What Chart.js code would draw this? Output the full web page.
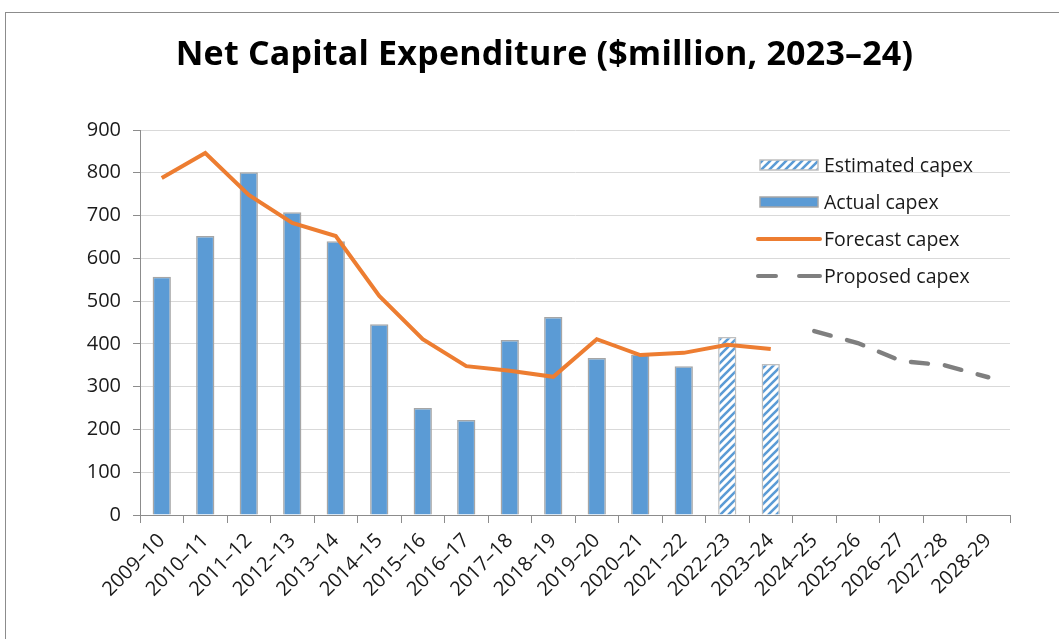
<!DOCTYPE html>
<html>
<head>
    <title>Net Capital Expenditure</title>
    <script src="https://cdn.jsdelivr.net/npm/chart.js"></script>
    <style>
        html, body { margin: 0; padding: 0; background: #fff; overflow: hidden; }
        .frame {
            position: absolute;
            left: 5px;
            top: 12px;
            width: 1100px;
            height: 700px;
            border-top: 1px solid #8c8c8c;
            border-left: 1px solid #8c8c8c;
        }
        .titulo {
            position: absolute;
            left: 0;
            top: 17px;
            width: 1077px;
            text-align: center;
            font-family: "Open Sans", "Noto Sans", sans-serif;
            font-weight: bold;
            font-size: 34px;
            line-height: 44px;
            color: #000;
            letter-spacing: 0.2px;
        }
        canvas { display: block; }
    </style>
</head>
<body>

<div class="frame">
    <canvas id="grafico" width="1076" height="626"></canvas>
    <div class="titulo">Net Capital Expenditure ($million, 2023–24)</div>
</div>

<script>
    const years = ['2009–10', '2010–11', '2011–12', '2012–13', '2013–14', '2014–15', '2015–16',
        '2016–17', '2017–18', '2018–19', '2019–20', '2020–21', '2021–22', '2022–23', '2023–24',
        '2024–25', '2025–26', '2026–27', '2027-28', '2028-29'];

    const actualCapex = [557, 652, 801, 708, 640, 446, 250, 222, 409, 463, 367, 375, 348,
        null, null, null, null, null, null, null];
    const estimatedCapex = [null, null, null, null, null, null, null, null, null, null, null, null, null,
        416, 353, null, null, null, null, null];
    const forecastCapex = [788, 846, 748, 683, 652, 512, 411, 348, 337, 323, 411, 374, 379,
        398, 388, null, null, null, null, null];
    const proposedCapex = [null, null, null, null, null, null, null, null, null, null, null, null, null,
        null, null, 430, 402, 360, 350, 322];

    const yTicks = [0, 100, 200, 300, 400, 500, 600, 700, 800, 900];

    const fontFamily = '"Open Sans", "Noto Sans", sans-serif';

    // diagonal hatch for the estimated bars
    function hatchPattern() {
        const c = document.createElement('canvas');
        c.width = 8;
        c.height = 8;
        const g = c.getContext('2d');
        g.fillStyle = '#ffffff';
        g.fillRect(0, 0, 8, 8);
        g.strokeStyle = '#5b9bd5';
        g.lineWidth = 2.6;
        g.beginPath();
        g.moveTo(-2, 10); g.lineTo(10, -2);
        g.moveTo(-2, 2); g.lineTo(2, -2);
        g.moveTo(6, 10); g.lineTo(10, 6);
        g.stroke();
        return g.createPattern(c, 'repeat');
    }

    const hatch = hatchPattern();

    // legend drawn inside the plot, like the original
    const insideLegend = {
        id: 'insideLegend',
        afterDraw(chart) {
            const ctx = chart.ctx;
            const x0 = 754, x1 = 812, tx = 818;
            const rows = [152, 189, 226, 263];
            ctx.save();
            ctx.textBaseline = 'middle';

            // Estimated
            ctx.fillStyle = hatch;
            ctx.fillRect(x0, rows[0] - 5, x1 - x0, 10);
            ctx.strokeStyle = '#bfbfbf';
            ctx.lineWidth = 1.5;
            ctx.strokeRect(x0, rows[0] - 5, x1 - x0, 10);
            // Actual
            ctx.fillStyle = '#5b9bd5';
            ctx.fillRect(x0, rows[1] - 5, x1 - x0, 10);
            ctx.strokeStyle = '#a6a6a6';
            ctx.strokeRect(x0, rows[1] - 5, x1 - x0, 10);
            // Forecast
            ctx.strokeStyle = '#ed7d31';
            ctx.lineWidth = 4;
            ctx.lineCap = 'round';
            ctx.beginPath();
            ctx.moveTo(x0 - 2, rows[2]); ctx.lineTo(x1 + 2, rows[2]);
            ctx.stroke();
            // Proposed
            ctx.strokeStyle = '#7f7f7f';
            ctx.beginPath();
            ctx.moveTo(x0 - 2, rows[3]); ctx.lineTo(x0 + 16, rows[3]);
            ctx.moveTo(x0 + 39, rows[3]); ctx.lineTo(x1 + 2, rows[3]);
            ctx.stroke();

            ctx.font = '19.5px ' + fontFamily;
            ctx.fillStyle = '#1a1a1a';
            const labels = ['Estimated capex', 'Actual capex', 'Forecast capex', 'Proposed capex'];
            labels.forEach((t, i) => ctx.fillText(t, tx, rows[i] + 1));
            ctx.restore();
        }
    };

    new Chart(document.getElementById('grafico').getContext('2d'), {
        type: 'bar',
        data: {
            labels: years,
            datasets: [
                {
                    type: 'line',
                    label: 'Forecast capex',
                    data: forecastCapex,
                    borderColor: '#ed7d31',
                    borderWidth: 4,
                    pointRadius: 0,
                    tension: 0,
                    order: 0
                },
                {
                    type: 'line',
                    label: 'Proposed capex',
                    data: proposedCapex,
                    borderColor: '#7f7f7f',
                    borderWidth: 4.5,
                    borderDash: [17, 17],
                    borderCapStyle: 'round',
                    pointRadius: 0,
                    tension: 0,
                    order: 0
                },
                {
                    label: 'Actual capex',
                    data: actualCapex,
                    backgroundColor: '#5b9bd5',
                    borderColor: '#a6a6a6',
                    borderWidth: 1.5,
                    grouped: false,
                    order: 1
                },
                {
                    label: 'Estimated capex',
                    data: estimatedCapex,
                    backgroundColor: hatch,
                    borderColor: '#bfbfbf',
                    borderWidth: 1.5,
                    grouped: false,
                    order: 1
                }
            ]
        },
        options: {
            responsive: false,
            animation: false,
            barPercentage: 0.42,
            categoryPercentage: 1,
            layout: { padding: { left: 0, right: 72, top: 117, bottom: 0 } },
            plugins: {
                legend: { display: false },
                tooltip: { enabled: false },
                title: { display: false }
            },
            scales: {
                x: {
                    offset: true,
                    afterFit(scale) { scale.height = 124; },
                    border: { color: '#8c8c8c', width: 1 },
                    grid: {
                        offset: true,
                        drawOnChartArea: false,
                        tickLength: 8,
                        tickColor: '#8c8c8c'
                    },
                    ticks: {
                        minRotation: 45,
                        maxRotation: 45,
                        padding: 6,
                        color: '#1a1a1a',
                        font: { family: fontFamily, size: 20 }
                    }
                },
                y: {
                    min: 0,
                    max: 900,
                    afterFit(scale) { scale.width = 134; },
                    afterBuildTicks(scale) { scale.ticks = yTicks.map(v => ({ value: v })); },
                    border: { color: '#8c8c8c', width: 1 },
                    grid: {
                        color: '#d9d9d9',
                        tickLength: 7,
                        tickColor: '#8c8c8c'
                    },
                    ticks: {
                        padding: 12,
                        color: '#1a1a1a',
                        font: { family: fontFamily, size: 20 }
                    }
                }
            }
        },
        plugins: [insideLegend]
    });
</script>

</body>
</html>
